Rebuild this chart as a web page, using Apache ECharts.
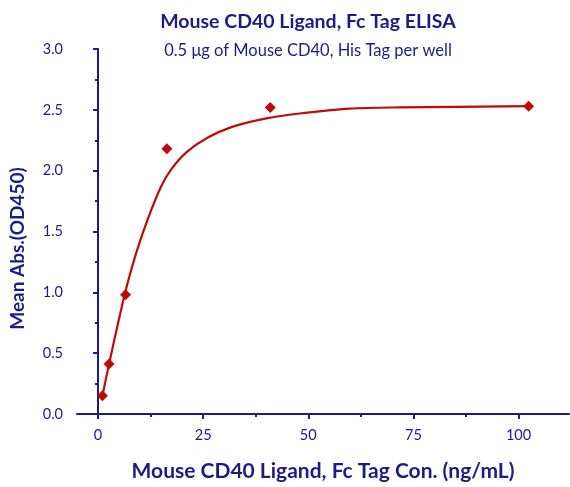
<!DOCTYPE html>
<html>
<head>
<meta charset="utf-8">
<script src="https://cdn.jsdelivr.net/npm/echarts@6/dist/echarts.min.js"></script>
<style>html,body{margin:0;padding:0;background:#fff}#c{width:570px;height:487px}</style>
</head>
<body>
<div id="c"></div>
<script>
// Measured points (concentration ng/mL, OD450)
const concentrations = [1.05, 2.62, 6.55, 16.38, 40.96, 102.4];
const meanAbs = [0.15, 0.41, 0.98, 2.18, 2.52, 2.53];
// Fitted curve
const curveX = [1.05, 2.62, 6.4, 9.05, 11.7, 15.0, 17.4, 21.0, 26.0, 31.9, 40.0, 47.9, 59.8, 71.7, 102.4];
const curveY = [0.15, 0.41, 0.99, 1.32, 1.59, 1.87, 2.01, 2.15, 2.27, 2.36, 2.43, 2.47, 2.51, 2.52, 2.53];
const xTickLabels = [0, 25, 50, 75, 100];
const xMinorTicks = [12.5, 37.5, 62.5, 87.5];

const navy = '#1c1c86';
const red = '#c00a0a';
const font = 'Lato';

const chart = echarts.init(document.getElementById('c'));
chart.setOption({
  animation: false,
  title: [
    {text: 'Mouse CD40 Ligand, Fc Tag ELISA', left: 303, top: 7, textAlign: 'center',
     textStyle: {color: navy, fontFamily: font, fontWeight: 'bold', fontSize: 19.5}},
    {text: '0.5 μg of Mouse CD40, His Tag per well', left: 303, top: 37, textAlign: 'center',
     textStyle: {color: navy, fontFamily: font, fontWeight: 'normal', fontSize: 16.5}}
  ],
  grid: {left: 77, right: 1, top: 49, bottom: 73},
  xAxis: [{
    type: 'value', min: -5, max: 112,
    name: 'Mouse CD40 Ligand, Fc Tag Con. (ng/mL)', nameLocation: 'middle', nameGap: 47,
    nameTextStyle: {color: navy, fontFamily: font, fontWeight: 'bold', fontSize: 21},
    axisLine: {show: true, lineStyle: {color: navy, width: 2}},
    axisTick: {show: true, length: 5, lineStyle: {color: navy, width: 2}, customValues: xTickLabels},
    axisLabel: {color: navy, fontFamily: font, fontSize: 14.5, margin: 14, customValues: xTickLabels},
    splitLine: {show: false}
  }, {
    type: 'value', min: -5, max: 112, position: 'bottom',
    axisLine: {show: false},
    axisTick: {show: true, length: 3, lineStyle: {color: navy, width: 2}, customValues: xMinorTicks},
    axisLabel: {show: false, customValues: xMinorTicks},
    splitLine: {show: false}
  }],
  yAxis: {
    type: 'value', min: 0, max: 3, interval: 0.5,
    name: 'Mean Abs.(OD450)', nameLocation: 'middle', nameGap: 50,
    nameTextStyle: {color: navy, fontFamily: font, fontWeight: 'bold', fontSize: 19, padding: [0, 34, 0, 0]},
    axisLine: {show: true, lineStyle: {color: navy, width: 2}},
    axisTick: {show: true, length: 5, lineStyle: {color: navy, width: 2}},
    minorTick: {show: true, splitNumber: 2, length: 3, lineStyle: {color: navy, width: 2}},
    axisLabel: {color: navy, fontFamily: font, fontSize: 14.5, margin: 14,
      formatter: v => v.toFixed(1)},
    splitLine: {show: false}
  },
  series: [{
    type: 'line', data: curveX.map((x, i) => [x, curveY[i]]),
    smooth: 0.3, showSymbol: false, symbol: 'none',
    lineStyle: {color: red, width: 2.2}, z: 2
  }, {
    type: 'scatter', data: concentrations.map((x, i) => [x, meanAbs[i]]),
    symbol: 'diamond', symbolSize: 11,
    itemStyle: {color: red, opacity: 1}, z: 3
  }]
});
</script>
</body>
</html>
